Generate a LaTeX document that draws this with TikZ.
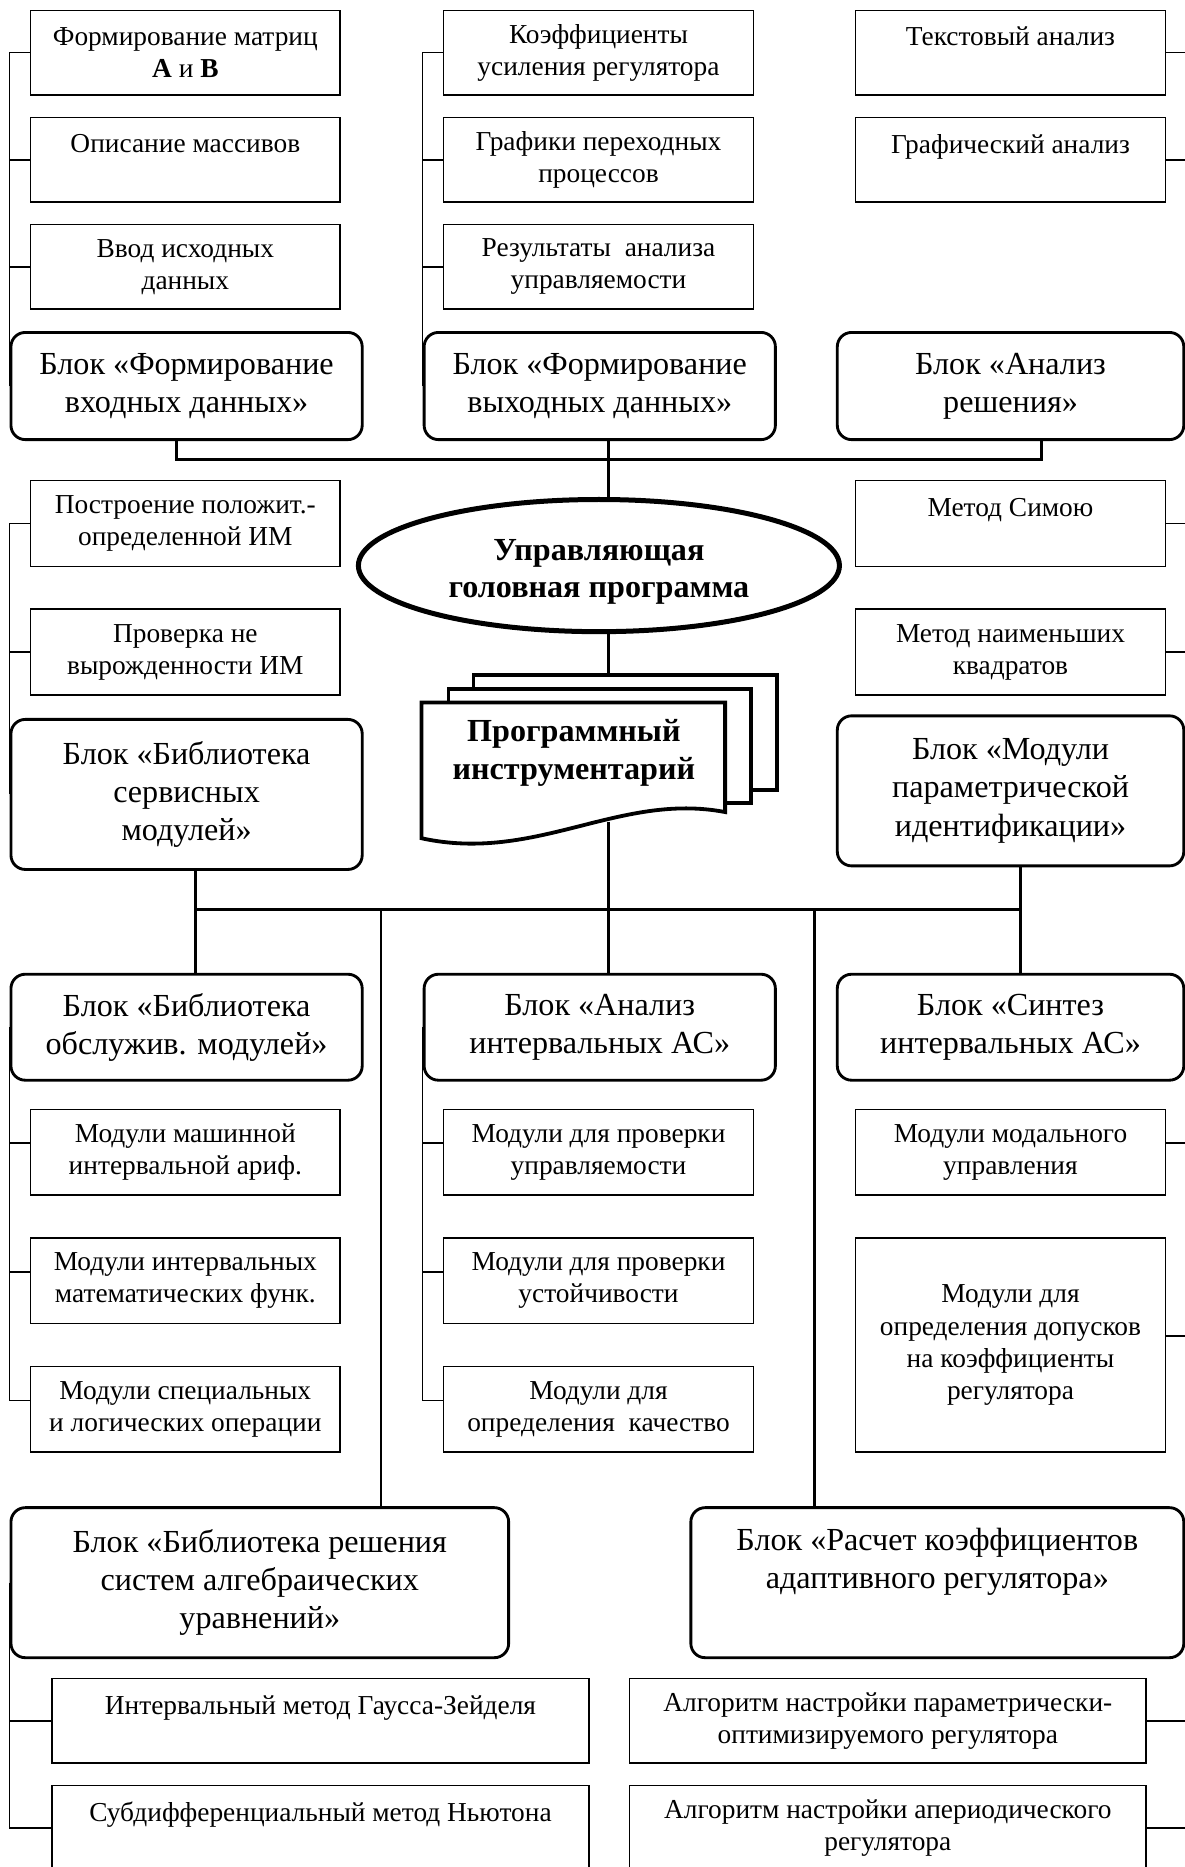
\documentclass[tikz,border=0pt]{standalone}
\usepackage{fontspec}
\setmainfont{Liberation Serif}
\usetikzlibrary{shapes.geometric,calc}
\begin{document}
\begin{tikzpicture}[x=1pt,y=-1pt,
  sbox/.style={draw=black, line width=1.3pt, minimum width=260pt, minimum height=71pt, inner sep=0pt, align=center, anchor=north west, font=\fontsize{23}{27}\selectfont},
  bblock/.style={draw=black, line width=2.4pt, rounded corners=12pt, inner sep=0pt, align=center, anchor=north west, font=\fontsize{27}{32}\selectfont},
  thinc/.style={line width=1.3pt},
  thickc/.style={line width=2.4pt},
  sheet/.style={draw=black, line width=3.2pt, fill=white, inner sep=0pt, anchor=north west},
  boldtxt/.style={font=\fontsize{27}{32}\bfseries, align=center, inner sep=0pt}
]
\useasboundingbox (0,0) rectangle (995,1568);
\clip (0,0) rectangle (995,1568);
\fill[white] (0,0) rectangle (995,1568);

% helper coordinates
\coordinate (RE) at (1012,0);
\coordinate (t1) at (148,0);
\coordinate (cx) at (511,0);
\coordinate (t3) at (875,0);
\coordinate (u1) at (164,0);
\coordinate (u2) at (320,0);
\coordinate (u4) at (684,0);
\coordinate (u5) at (857,0);
\coordinate (busT) at (0,386);
\coordinate (busB) at (0,764);

% ---- top small boxes
\node[sbox] (A1) at (25,8) {Формирование матриц\\\textbf{A} и \textbf{B}};
\node[sbox] (A2) at (25,98) {Описание массивов\\\mbox{}};
\node[sbox] (A3) at (25,188) {Ввод исходных\\данных};
\node[sbox] (B1) at (372,8) {Коэффициенты\\усиления регулятора};
\node[sbox] (B2) at (372,98) {Графики переходных\\процессов};
\node[sbox] (B3) at (372,188) {Результаты~ анализа\\управляемости};
\node[sbox] (C1) at (718,8) {Текстовый анализ\\\mbox{}};
\node[sbox] (C2) at (718,98) {Графический анализ\\\mbox{}};

% ---- top blocks
\node[bblock, minimum width=295pt, minimum height=90pt] (K1) at (8,278) {Блок «Формирование\\входных данных»};
\node[bblock, minimum width=295pt, minimum height=90pt] (K2) at (355,278) {Блок «Формирование\\выходных данных»};
\node[bblock, minimum width=291pt, minimum height=90pt] (K3) at (702,278) {Блок «Анализ\\решения»};

% ---- ellipse
\node[ellipse, draw=black, line width=4.2pt, minimum width=404pt, minimum height=111pt, inner sep=0pt, font=\fontsize{27}{31}\bfseries] (E) at (503,475) {\raisebox{-5pt}[\height][\depth]{\begin{tabular}{@{}c@{}}Управляющая\\головная программа\end{tabular}}};

% ---- middle small boxes
\node[sbox, minimum height=72pt] (L1) at (25,403) {Построение положит.-\\определенной ИМ};
\node[sbox, minimum height=72pt] (L2) at (25,511) {Проверка не\\вырожденности ИМ};
\node[sbox, minimum height=72pt] (R1) at (718,403) {Метод Симою\\\mbox{}};
\node[sbox, minimum height=72pt] (R2) at (718,511) {Метод наименьших\\квадратов};

% ---- middle blocks
\node[bblock, minimum width=295pt, minimum height=126pt] (K4) at (8,603) {Блок «Библиотека\\сервисных\\модулей»};
\node[bblock, minimum width=291pt, minimum height=126pt] (K5) at (702,600) {Блок «Модули\\параметрической\\идентификации»};

% ---- document stack
\node[sheet, minimum width=255pt, minimum height=97pt] (S3) at (396,565) {};
\node[sheet, minimum width=254pt, minimum height=96pt] (S2) at (375,577) {};
\draw[sheet] (354,590) -- (609,590) -- (609,682) .. controls (520,665) and (450,725) .. (354,704) -- cycle;
\node[boldtxt] (D) at (482,632) {Программный\\инструментарий};
\coordinate (docB) at (511,690);

% ---- lower blocks
\node[bblock, minimum width=295pt, minimum height=89pt] (K6) at (8,817) {Блок «Библиотека\\обслужив. модулей»};
\node[bblock, minimum width=295pt, minimum height=89pt] (K7) at (355,817) {Блок «Анализ\\интервальных АС»};
\node[bblock, minimum width=291pt, minimum height=89pt] (K8) at (702,817) {Блок «Синтез\\интервальных АС»};

\node[sbox, minimum height=72pt] (M1) at (25,931) {Модули машинной\\интервальной ариф.};
\node[sbox, minimum height=72pt] (M2) at (25,1039) {Модули интервальных\\математических функ.};
\node[sbox, minimum height=72pt] (M3) at (25,1147) {Модули специальных\\и логических операции};
\node[sbox, minimum height=72pt] (N1) at (372,931) {Модули для проверки\\управляемости};
\node[sbox, minimum height=72pt] (N2) at (372,1039) {Модули для проверки\\устойчивости};
\node[sbox, minimum height=72pt] (N3) at (372,1147) {Модули для\\определения~ качество};
\node[sbox, minimum height=72pt] (P1) at (718,931) {Модули модального\\управления};
\node[sbox, minimum height=180pt] (P2) at (718,1039) {Модули для\\определения допусков\\на коэффициенты\\регулятора};

% ---- bottom blocks
\node[bblock, minimum width=418pt, minimum height=126pt] (K9) at (8,1265) {Блок «Библиотека решения\\систем алгебраических\\уравнений»};
\node[bblock, minimum width=414pt, minimum height=126pt] (K10) at (579,1265) {Блок «Расчет коэффициентов\\адаптивного регулятора»\\\strut};

\node[sbox, minimum width=451pt] (Q1) at (43,1409) {Интервальный метод Гаусса-Зейделя\\\mbox{}};
\node[sbox, minimum width=451pt] (Q2) at (43,1499) {Субдифференциальный метод Ньютона\\\mbox{}};
\node[sbox, minimum width=434pt] (G1) at (528,1409) {Алгоритм настройки параметрически-\\оптимизируемого регулятора};
\node[sbox, minimum width=434pt] (G2) at (528,1499) {Алгоритм настройки апериодического\\регулятора};

% ================= connectors
% top left group
\draw[thinc] (A1.west) -| (K1.west);
\draw[thinc] (A2.west) -- (A2.west -| K1.west);
\draw[thinc] (A3.west) -- (A3.west -| K1.west);
% top middle group
\draw[thinc] (B1.west) -| (K2.west);
\draw[thinc] (B2.west) -- (B2.west -| K2.west);
\draw[thinc] (B3.west) -- (B3.west -| K2.west);
% top right stubs
\draw[thinc] (C1.east) -- (C1.east -| RE);
\draw[thinc] (C2.east) -- (C2.east -| RE);

% upper bus
\draw[thickc] (t1 |- K1.south) -- (t1 |- busT) -- (t3 |- busT) -- (t3 |- K3.south);
\draw[thickc] (cx |- K2.south) -- (cx |- E.north);
\draw[thickc] (cx |- E.south) -- (cx |- S3.north);

% middle groups
\draw[thinc] (L1.west) -| (K4.west);
\draw[thinc] (L2.west) -- (L2.west -| K4.west);
\draw[thinc] (R1.east) -- (R1.east -| RE);
\draw[thinc] (R2.east) -- (R2.east -| RE);

% lower bus
\draw[thickc] (u1 |- K4.south) -- (u1 |- K6.north);
\draw[thickc] (u5 |- K5.south) -- (u5 |- K8.north);
\draw[thickc] (u1 |- busB) -- (u5 |- busB);
\draw[thickc] (docB) -- (docB |- K7.north);
\draw[thickc] (u2 |- busB) -- (u2 |- K9.north);
\draw[thickc] (u4 |- busB) -- (u4 |- K10.north);

% lower groups
\coordinate (m1) at ($(M1.west)+(0,-7.5)$);
\coordinate (m2) at ($(M2.west)+(0,-7.5)$);
\coordinate (m3) at ($(M3.west)+(0,-7.5)$);
\coordinate (n1) at ($(N1.west)+(0,-7.5)$);
\coordinate (n2) at ($(N2.west)+(0,-7.5)$);
\coordinate (n3) at ($(N3.west)+(0,-7.5)$);
\coordinate (p1) at ($(P1.east)+(0,-7.5)$);
\coordinate (p2) at ($(P2.east)+(0,-7.5)$);
\draw[thinc] (K6.west) |- (m3);
\draw[thinc] (m1) -- (m1 -| K6.west);
\draw[thinc] (m2) -- (m2 -| K6.west);
\draw[thinc] (K7.west) |- (n3);
\draw[thinc] (n1) -- (n1 -| K7.west);
\draw[thinc] (n2) -- (n2 -| K7.west);
\draw[thinc] (p1) -- (p1 -| RE);
\draw[thinc] (p2) -- (p2 -| RE);

% bottom groups
\draw[thinc] (K9.west) |- (Q2.west);
\draw[thinc] (Q1.west) -- (Q1.west -| K9.west);
\draw[thinc] (G1.east) -- (G1.east -| RE);
\draw[thinc] (G2.east) -- (G2.east -| RE);
\end{tikzpicture}
\end{document}
